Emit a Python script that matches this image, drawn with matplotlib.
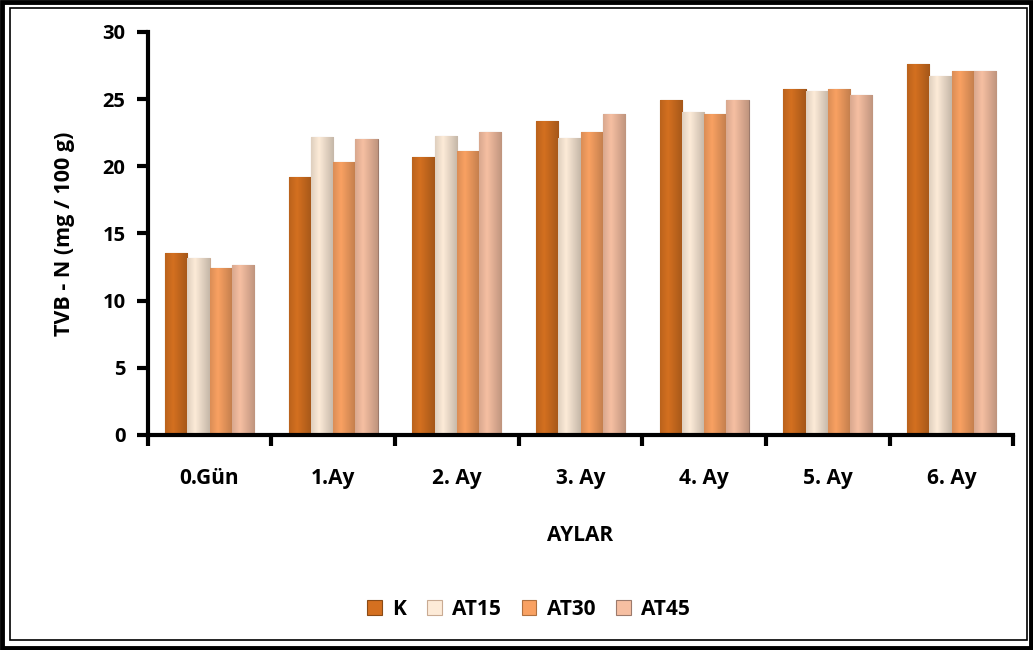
# TVB-N grafiği
import numpy as np
import matplotlib.pyplot as plt
from matplotlib.patches import Rectangle
from matplotlib.colors import to_rgb

plt.rcParams['font.family'] = ['Open Sans', 'DejaVu Sans']
plt.rcParams['font.weight'] = 'bold'

# VERİLER
kategoriler = ["0.Gün", "1.Ay", "2. Ay", "3. Ay", "4. Ay", "5. Ay", "6. Ay"]
seriler = ["K", "AT15", "AT30", "AT45"]
K = [13.55, 19.2, 20.7, 23.4, 24.9, 25.75, 27.6]
AT15 = [13.2, 22.2, 22.25, 22.1, 24.05, 25.6, 26.7]
AT30 = [12.4, 20.3, 21.1, 22.55, 23.9, 25.75, 27.1]
AT45 = [12.65, 22.0, 22.55, 23.9, 24.9, 25.3, 27.1]
degerler = [K, AT15, AT30, AT45]
renkler = ["#d47020", "#fdebd8", "#f9a162", "#f6bfa2"]
kenarlar = ["#8a4a15", "#c9ab93", "#b0703f", "#9c7a6c"]

fig = plt.figure(figsize=(10.33, 6.5), dpi=100)
# çift çerçeve
fig.patches.append(Rectangle((0.002, 0.003), 0.996, 0.994, transform=fig.transFigure,
                             fill=False, lw=3.5, ec="black"))
fig.patches.append(Rectangle((0.0095, 0.015), 0.985, 0.972, transform=fig.transFigure,
                             fill=False, lw=1.2, ec="black"))

ax = fig.add_axes([0.143, 0.331, 0.838, 0.62])
x = np.arange(len(kategoriler))
w = 0.18

# yatay gölgelendirme (kenarlar koyu, orta açık)
t = np.linspace(0, 1, 40)
profil = 1.0 - 0.22 * np.abs(t - 0.35) / 0.65
for i, (ad, v) in enumerate(zip(seriler, degerler)):
    cubuklar = ax.bar(x + (i - 1.5) * w, v, w, color=renkler[i], edgecolor=kenarlar[i],
                      linewidth=0.8, label=ad)
    c = np.array(to_rgb(renkler[i]))
    grad = np.clip(c[None, :] * profil[:, None], 0, 1)[None, :, :]
    for p in cubuklar:
        bx, by = p.get_x(), p.get_y()
        bw, bh = p.get_width(), p.get_height()
        im = ax.imshow(grad, extent=[bx, bx + bw, by, by + bh], aspect="auto",
                       interpolation="bilinear", zorder=p.get_zorder() + 0.1)
        im.set_clip_path(p)

ax.set_xlim(-0.5, len(kategoriler) - 0.5)
ax.set_ylim(0, 30)
ax.set_yticks(range(0, 31, 5))
ax.set_xticks(np.arange(len(kategoriler) + 1) - 0.5)
ax.set_xticklabels([])
ax.set_xticks(x, minor=True)
ax.set_xticklabels(kategoriler, minor=True, fontsize=15)
ax.tick_params(axis="x", which="minor", length=0, pad=24)
ax.tick_params(axis="x", which="major", direction="out", length=8, width=3)
ax.tick_params(axis="y", direction="out", length=8, width=3, labelsize=14.5, pad=8)
for s in ["top", "right"]:
    ax.spines[s].set_visible(False)
for s in ["left", "bottom"]:
    ax.spines[s].set_linewidth(3)

ax.set_ylabel("TVB - N (mg / 100 g)", fontsize=15.5, fontweight="bold", labelpad=20)
ax.set_xlabel("AYLAR", fontsize=15, fontweight="bold", labelpad=26)
ax.legend(loc="upper center", bbox_to_anchor=(0.44, -0.36), ncol=4, frameon=False,
          fontsize=15, handlelength=0.7, handleheight=0.7, columnspacing=1.0,
          handletextpad=0.5)

plt.savefig("out.png", dpi=100)
